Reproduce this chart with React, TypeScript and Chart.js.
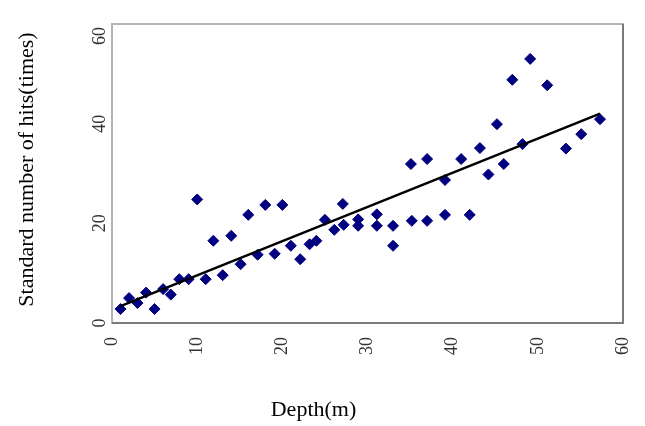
import React, { useEffect, useRef } from "react";
import { Chart, registerables } from "chart.js";

Chart.register(...registerables);

// Depth (m) of each measurement
const depthValues: number[] = [
  1.0, 2.0, 3.0, 4.0, 5.0, 6.0, 6.9, 7.9, 9.0, 10.0,
  11.0, 11.9, 13.0, 14.0, 15.1, 16.0, 17.1, 18.0, 19.1, 20.0,
  21.0, 22.1, 23.2, 24.0, 25.0, 26.1, 27.1, 27.2, 28.9, 28.9,
  31.1, 31.1, 33.0, 33.0, 35.2, 35.1, 37.0, 37.0, 39.1, 39.1,
  41.0, 42.0, 43.2, 44.2, 45.2, 46.0, 47.0, 48.2, 49.1, 51.1,
  53.3, 55.1, 57.3,
];
// Standard number of hits (times)
const hitValues: number[] = [
  2.8, 5.0, 4.0, 6.1, 2.8, 6.8, 5.7, 8.8, 8.8, 24.8,
  8.8, 16.5, 9.6, 17.5, 11.8, 21.7, 13.7, 23.7, 13.9, 23.7,
  15.5, 12.8, 15.8, 16.5, 20.7, 18.7, 23.9, 19.7, 20.8, 19.5,
  21.8, 19.5, 19.5, 15.5, 20.5, 31.9, 20.5, 32.9, 21.7, 28.7,
  32.9, 21.7, 35.1, 29.8, 39.9, 31.9, 48.8, 35.9, 53.0, 47.7,
  35.0, 37.9, 40.9,
];
// Trend line end points
const trendDepth: number[] = [1.0, 57.3];
const trendHits: number[] = [3.4, 42.0];

const xTicks: number[] = [0, 10, 20, 30, 40, 50, 60];
const yTicks: number[] = [0, 20, 40, 60];
const xTitle = "Depth(m)";
const yTitle = "Standard number of hits(times)";

const FONT = "'Liberation Serif', 'DejaVu Serif', serif";

const framePlugin = {
  id: "frameAndText",
  beforeDatasetsDraw(chart: any) {
    const { ctx, chartArea: ca } = chart;
    ctx.save();
    ctx.lineWidth = 2;
    ctx.strokeStyle = "#b4b4b4";
    ctx.strokeRect(ca.left, ca.top, ca.right - ca.left, ca.bottom - ca.top);
    ctx.strokeStyle = "#7a7a7a";
    ctx.beginPath();
    ctx.moveTo(ca.left, ca.bottom);
    ctx.lineTo(ca.right, ca.bottom);
    ctx.lineTo(ca.right, ca.top);
    ctx.stroke();
    ctx.restore();
  },
  afterDraw(chart: any) {
    const { ctx, chartArea: ca, scales } = chart;
    const xs = scales.x;
    const ys = scales.y;
    ctx.save();
    // x tick labels, rotated
    ctx.fillStyle = "#333";
    ctx.font = `18px ${FONT}`;
    ctx.textBaseline = "middle";
    ctx.textAlign = "right";
    for (const v of xTicks) {
      const px = xs.getPixelForValue(v);
      ctx.save();
      ctx.translate(px, ca.bottom + 14);
      ctx.rotate(-Math.PI / 2);
      ctx.fillText(String(v), 0, 0);
      ctx.restore();
    }
    // y tick labels, rotated
    ctx.textAlign = "center";
    for (const v of yTicks) {
      const py = ys.getPixelForValue(v);
      const w = ctx.measureText(String(v)).width;
      const y = Math.max(py, ca.top + w / 2 + 3);
      ctx.save();
      ctx.translate(ca.left - 12, y);
      ctx.rotate(-Math.PI / 2);
      ctx.fillText(String(v), 0, 0);
      ctx.restore();
    }
    // titles
    ctx.fillStyle = "#000";
    ctx.font = `22px ${FONT}`;
    ctx.textAlign = "center";
    ctx.textBaseline = "middle";
    ctx.fillText(xTitle, (ca.left + ca.right) / 2 - 54, 410);
    ctx.save();
    ctx.translate(27, (ca.top + ca.bottom) / 2 - 4);
    ctx.rotate(-Math.PI / 2);
    ctx.fillText(yTitle, 0, 0);
    ctx.restore();
    ctx.restore();
  },
};

export default function App() {
  const canvasRef = useRef<HTMLCanvasElement | null>(null);

  useEffect(() => {
    if (!canvasRef.current) return;
    const scatterData = depthValues.map((x, i) => ({ x, y: hitValues[i] }));
    const trendData = trendDepth.map((x, i) => ({ x, y: trendHits[i] }));
    const chart = new Chart(canvasRef.current, {
      type: "scatter",
      data: {
        datasets: [
          {
            type: "line",
            label: "Trend",
            data: trendData,
            borderColor: "#000",
            borderWidth: 2.5,
            pointRadius: 0,
            fill: false,
            showLine: true,
          } as any,
          {
            label: "Hits",
            data: scatterData,
            pointStyle: "rectRot",
            pointRadius: 5.5,
            backgroundColor: "#000080",
            borderColor: "#000080",
            borderWidth: 1,
          },
        ],
      },
      options: {
        animation: false,
        responsive: false,
        layout: { padding: { top: 24, right: 22, left: 0, bottom: 0 } },
        plugins: {
          legend: { display: false },
          tooltip: { enabled: false },
        },
        scales: {
          x: {
            type: "linear",
            min: 0,
            max: 60,
            grid: { display: false },
            border: { display: false },
            ticks: { display: false, stepSize: 10 },
            afterFit: (s: any) => {
              s.height = 103;
            },
          },
          y: {
            type: "linear",
            min: 0,
            max: 60,
            grid: { display: false },
            border: { display: false },
            ticks: { display: false, stepSize: 20 },
            afterFit: (s: any) => {
              s.width = 112;
            },
          },
        },
      },
      plugins: [framePlugin],
    });
    return () => chart.destroy();
  }, []);

  return (
    <div style={{ position: "absolute", left: 0, top: 0, width: 645, height: 426, background: "#fff" }}>
      <canvas ref={canvasRef} width={645} height={426} />
    </div>
  );
}
